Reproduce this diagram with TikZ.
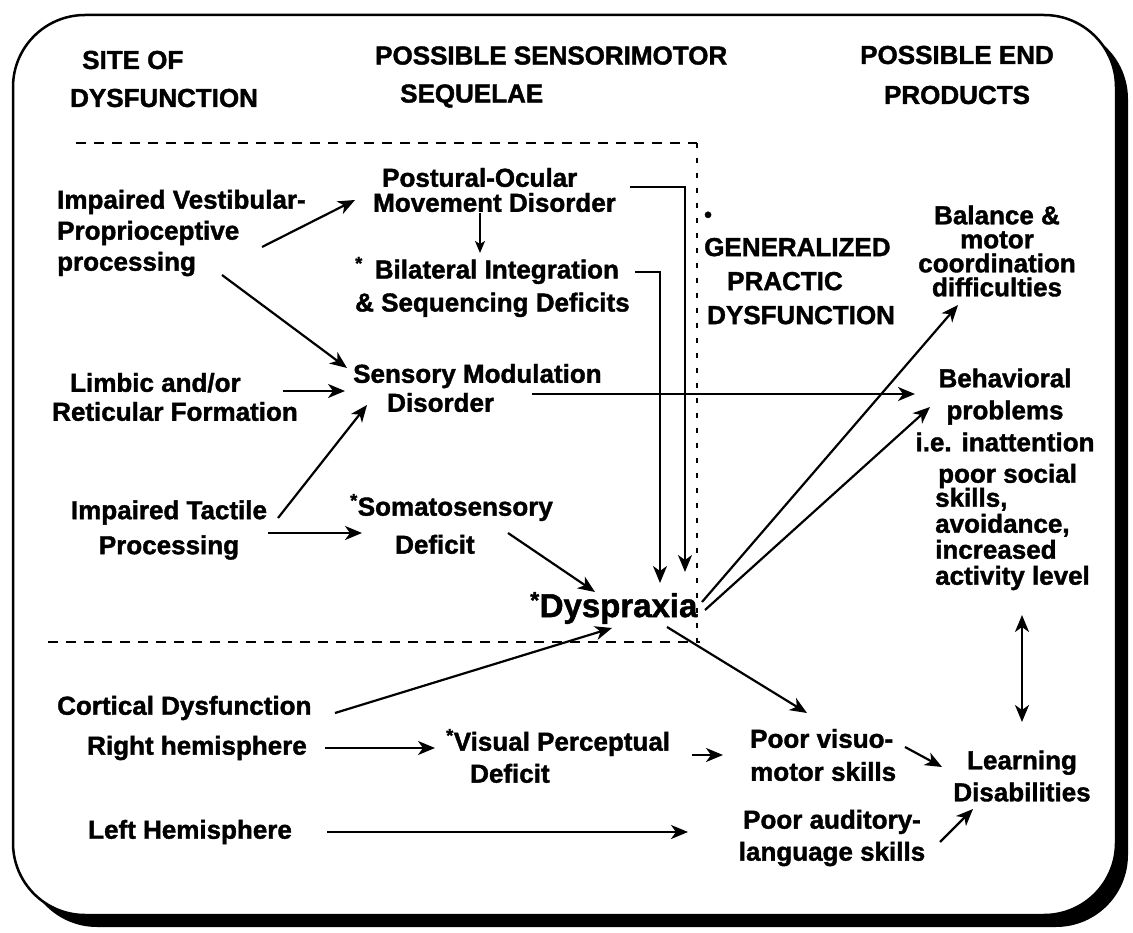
\documentclass[tikz,border=0pt]{standalone}
\usepackage{fontspec}
\setmainfont{Liberation Sans}[BoldFeatures={FakeBold=1.5}]
\usetikzlibrary{arrows.meta, positioning}
\setlength{\lineskiplimit}{-100pt}

\begin{document}
\begin{tikzpicture}[x=1pt, y=-1pt,
  lbl/.style={font=\fontsize{26}{#1}\selectfont\bfseries, inner sep=0pt, align=left},
  lbl/.default=30,
  arr/.style={-{Stealth[length=17pt,width=14pt,inset=5pt]}, line width=2.2pt},
  arrsmall/.style={-{Stealth[length=12pt,width=10pt,inset=3pt]}, line width=1.6pt},
  divider/.style={line width=1.5pt, dash pattern=on 10pt off 8pt},
  vdivider/.style={line width=1.5pt, dash pattern=on 5pt off 10pt}]

  \useasboundingbox (0,0) rectangle (1133,933);

  % frame with shadow
  \fill[rounded corners=72pt] (25,27) rectangle (1128,927);
  \draw[fill=white, line width=2.5pt, rounded corners=72pt] (13,15) rectangle (1116,915);

  % column headings
  \node[lbl=38, anchor=west] (hsite) at (70,79) {\hspace*{12pt}SITE OF\\DYSFUNCTION};
  \node[lbl=38, anchor=west] (hsens) at (375,77) {POSSIBLE SENSORIMOTOR\\\hspace*{25pt}SEQUELAE};
  \node[lbl=40, align=center] (hend) at (957,75) {POSSIBLE END\\PRODUCTS};

  % dashed region
  \draw[divider] (76,143) -- (697,143);
  \draw[vdivider] (697,143) -- (697,642);
  \draw[divider] (48,642) -- (700,642);

  % site of dysfunction
  \node[lbl=31, anchor=west] (vest) at (57,233) {Impaired Vestibular-\\Proprioceptive\\processing};
  \node[lbl=29, anchor=west] (limb) at (52,397) {\hspace*{18pt}Limbic and/or\\Reticular Formation};
  \node[lbl=35, align=center] (tact) at (169,530) {Impaired Tactile\\Processing};
  \node[lbl, anchor=west] (cort) at (57,708) {Cortical Dysfunction};
  \node[lbl, anchor=west] (rhem) at (87,748) {Right hemisphere};
  \node[lbl, anchor=west] (lhem) at (88,832) {Left Hemisphere};

  % sensorimotor sequelae
  \node[lbl=25, anchor=west] (post) at (373,190) {\hspace*{9pt}Postural-Ocular\\Movement Disorder};
  \node[lbl=33, anchor=west] (bil) at (355,287) {\textsuperscript{*}\hspace{12pt}Bilateral Integration\\\& Sequencing Deficits};
  \node[lbl=29, anchor=west] (sens) at (353,388) {Sensory Modulation\\\hspace*{34pt}Disorder};
  \node[lbl=38, anchor=west] (soma) at (350,524) {\textsuperscript{*}Somatosensory\\\hspace*{45pt}Deficit};
  \node[lbl, font=\fontsize{33}{36}\selectfont\bfseries, anchor=west] (dys) at (530,608) {\textsuperscript{*}Dyspraxia};
  \node[lbl=32, anchor=west] (vis) at (446,756) {\textsuperscript{*}Visual Perceptual\\\hspace*{24pt}Deficit};
  \node[lbl=34, anchor=west] (gen) at (704,268) {{\fontsize{22}{22}\selectfont •}\\GENERALIZED\\\hspace*{23pt}PRACTIC\\\hspace*{3pt}DYSFUNCTION};

  % end products
  \node[lbl=24, align=center] (bal) at (997,251) {Balance \&\\motor\\coordination\\difficulties};
  \node[lbl=32, align=center] (beh) at (1005,410) {Behavioral\\problems\\i.e.\hspace{10pt}inattention};
  \node[lbl=26, anchor=west] (behx) at (935,527) {\hspace*{3pt}poor social\\[-2pt]skills,\\avoidance,\\increased\\activity level};
  \node[lbl=33, anchor=west] (pvis) at (750,755) {Poor visuo-\\motor skills};
  \node[lbl=32, align=center] (paud) at (832,838) {Poor auditory-\\language skills};
  \node[lbl=32, align=center] (learn) at (1022,776) {Learning\\Disabilities};

  % connectors
  \draw[arr] ([shift={(205,14)}]vest.west) -- ([shift={(-18,10)}]post.west);
  \draw[arr] ([shift={(165,42)}]vest.west) -- ([shift={(-6,-20)}]sens.west);
  \draw[arr] ([shift={(231,-6)}]limb.west) -- ([shift={(-8,3)}]sens.west);
  \draw[arr] ([shift={(109,-12)}]tact.center) -- ([shift={(14,17)}]sens.west);
  \draw[arr] ([shift={(99,3)}]tact.center) -- ([shift={(12,9)}]soma.west);
  \draw[arrsmall] ([shift={(107,23)}]post.west) -- ([shift={(125,-34)}]bil.west);
  \draw[arr, line width=1.8pt] ([shift={(257,-3)}]post.west) -| ([shift={(155,-36)}]dys.west);
  \draw[arr, line width=1.8pt] ([shift={(280,-15)}]bil.west) -| ([shift={(130,-25)}]dys.west);
  \draw[arr] ([shift={(179,6)}]sens.west) -- ([shift={(-90,-16)}]beh.center);
  \draw[arr] ([shift={(158,9)}]soma.west) -- ([shift={(65,-16)}]dys.west);
  \draw[arr] ([shift={(278,5)}]cort.west) -- ([shift={(82,20)}]dys.west);
  \draw[arr] ([shift={(172,-6)}]dys.west) -- ([shift={(-39,54)}]bal.center);
  \draw[arr] ([shift={(175,2)}]dys.west) -- ([shift={(-75,-3)}]beh.center);
  \draw[arr] ([shift={(137,19)}]dys.west) -- ([shift={(57,-42)}]pvis.west);
  \draw[arr] ([shift={(238,0)}]rhem.west) -- ([shift={(-11,-8)}]vis.west);
  \draw[arr] ([shift={(246,-1)}]vis.west) -- ([shift={(-27,0)}]pvis.west);
  \draw[arr] ([shift={(155,-8)}]pvis.west) -- ([shift={(-80,-9)}]learn.center);
  \draw[arr] ([shift={(239,0)}]lhem.west) -- ([shift={(-144,-6)}]paud.center);
  \draw[arr] ([shift={(108,4)}]paud.center) -- ([shift={(-49,33)}]learn.center);
  \draw[arr, {Stealth[length=17pt,width=14pt,inset=5pt]}-{Stealth[length=17pt,width=14pt,inset=5pt]}]
    ([shift={(87,88)}]behx.west) -- ([shift={(0,-54)}]learn.center);

\end{tikzpicture}
\end{document}
